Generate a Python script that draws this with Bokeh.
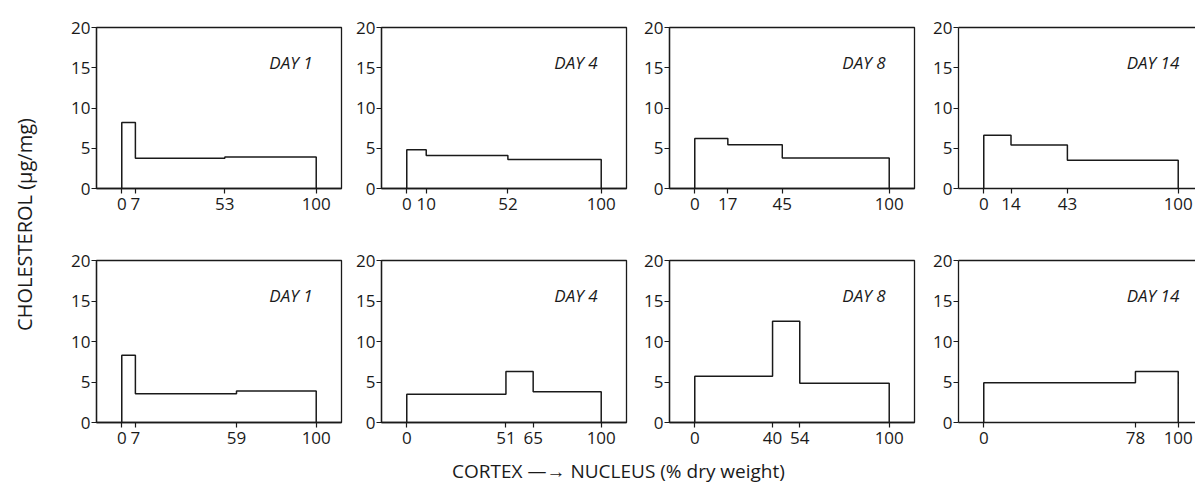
import math
from bokeh.plotting import figure
from bokeh.layouts import row, column
from bokeh.models import Range1d, FixedTicker, Label, LinearAxis, AllLabels
from bokeh.embed import file_html
from bokeh.resources import INLINE

# ---- data ----
days = ["DAY 1", "DAY 4", "DAY 8", "DAY 14"]
top_breaks = [[0, 7, 53, 100], [0, 10, 52, 100], [0, 17, 45, 100], [0, 14, 43, 100]]
top_values = [[8.2, 3.75, 3.9], [4.8, 4.1, 3.6], [6.2, 5.45, 3.8], [6.6, 5.4, 3.5]]
bottom_breaks = [[0, 7, 59, 100], [0, 51, 65, 100], [0, 40, 54, 100], [0, 78, 100]]
bottom_values = [[8.3, 3.55, 3.9], [3.5, 6.3, 3.8], [5.7, 12.5, 4.85], [4.9, 6.3]]
y_ticks = [0, 5, 10, 15, 20]
y_label = "CHOLESTEROL (\u03bcg/mg)"
x_label = "CORTEX \u2014\u2192 NUCLEUS (% dry weight)"

FONT = "Open Sans"
INK = "#1a1a1a"

fig_widths = [285, 288, 289, 273]
frame_widths = [245, 245, 245, 237]
BORDER_L = 36
PX_PER_UNIT = 245 / 126.0


def step_path(breaks, values):
    xs = [breaks[0]]
    ys = [0]
    for i, v in enumerate(values):
        xs += [breaks[i], breaks[i + 1]]
        ys += [v, v]
    xs.append(breaks[-1])
    ys.append(0)
    return xs, ys


def panel(col, breaks, values, day, height, border_top, border_bottom):
    w = fig_widths[col]
    fw = frame_widths[col]
    x0 = -13
    x1 = x0 + fw / PX_PER_UNIT
    p = figure(width=w, height=height, toolbar_location=None, output_backend="svg",
               x_range=Range1d(x0, x1), y_range=Range1d(0, 20),
               min_border_left=BORDER_L, min_border_right=w - BORDER_L - fw,
               min_border_top=border_top, min_border_bottom=border_bottom)
    p.grid.visible = False
    p.background_fill_color = "white"
    p.border_fill_color = "white"

    xaxis = p.below[0]
    yaxis = p.left[0]
    for ax in (xaxis, yaxis):
        ax.axis_line_color = INK
        ax.axis_line_width = 1.3
        ax.major_tick_line_color = INK
        ax.major_tick_line_width = 1.2
        ax.major_tick_in = 0
        ax.major_tick_out = 5
        ax.minor_tick_line_color = None
        ax.major_label_text_font = FONT
        ax.major_label_text_font_size = "17px"
        ax.major_label_text_color = INK
        ax.major_label_policy = AllLabels()
    xaxis.ticker = FixedTicker(ticks=breaks)
    xaxis.major_label_standoff = 4
    yaxis.ticker = FixedTicker(ticks=y_ticks)
    yaxis.major_label_standoff = 1

    if col == 3:
        p.outline_line_color = None
        p.outline_line_alpha = 0
        p.outline_line_width = 0
        top = LinearAxis(ticker=FixedTicker(ticks=[]), major_label_text_font_size="0px",
                         axis_line_color=INK, axis_line_width=1.3,
                         major_tick_line_color=None, minor_tick_line_color=None)
        p.add_layout(top, "above")
    else:
        p.outline_line_color = INK
        p.outline_line_width = 1.3
        p.outline_line_alpha = 1.0

    xs, ys = step_path(breaks, values)
    p.line(xs, ys, line_color=INK, line_width=1.5)

    p.add_layout(Label(x=87, y=15.7, text=day, text_font=FONT, text_font_style="italic",
                       text_font_size="17px", text_color=INK,
                       text_align="center", text_baseline="middle"))
    return p


top_row = [panel(i, top_breaks[i], top_values[i], days[i], 241, 27, 53) for i in range(4)]
bottom_row = [panel(i, bottom_breaks[i], bottom_values[i], days[i], 211, 19, 30) for i in range(4)]

caption_w = sum(fig_widths)
cap = figure(width=caption_w, height=30, toolbar_location=None, output_backend="svg",
             x_range=Range1d(0, 1), y_range=Range1d(0, 1), min_border=0)
cap.axis.visible = False
cap.grid.visible = False
cap.outline_line_color = None
cap.add_layout(Label(x=558, y=12, x_units="screen", y_units="screen", text=x_label,
                     text_font=FONT, text_font_size="19px", text_color=INK,
                     text_align="center", text_baseline="middle"))

lab = figure(width=60, height=482, toolbar_location=None, output_backend="svg",
             x_range=Range1d(0, 1), y_range=Range1d(0, 1), min_border=0)
lab.axis.visible = False
lab.grid.visible = False
lab.outline_line_color = None
lab.add_layout(Label(x=24, y=258, x_units="screen", y_units="screen", text=y_label,
                     angle=math.pi / 2, text_font=FONT, text_font_size="20px",
                     text_color=INK, text_align="center", text_baseline="middle"))

layout = row(lab, column(row(*top_row), row(*bottom_row), cap))

open("out.html", "w").write(file_html(layout, INLINE))
